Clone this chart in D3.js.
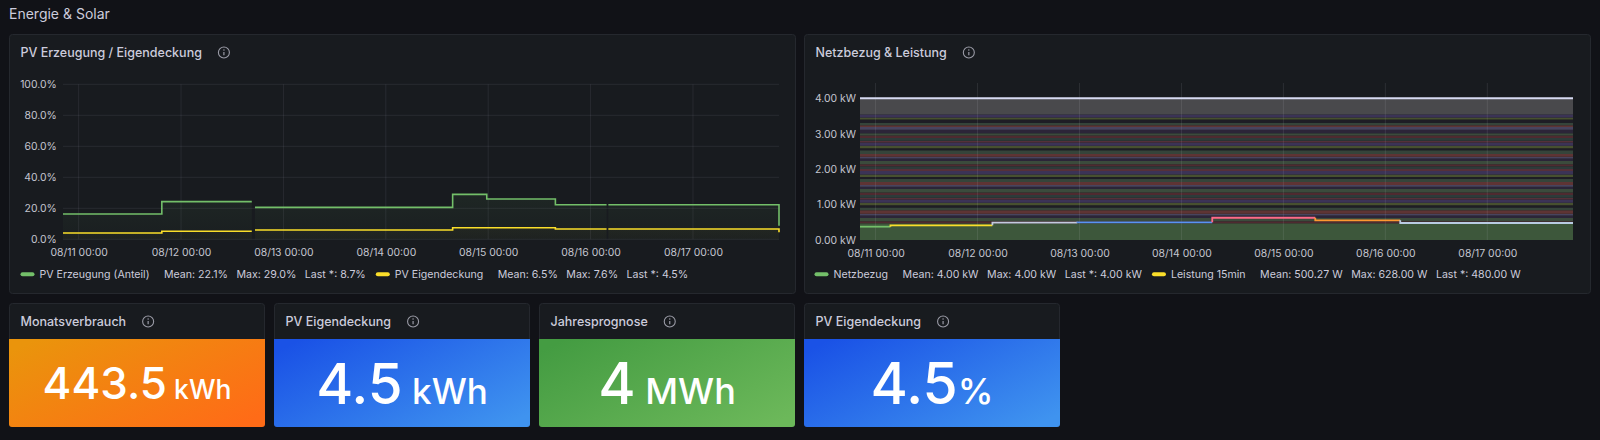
<!DOCTYPE html>
<html>
<head>
<meta charset="utf-8">
<script src="https://cdn.jsdelivr.net/npm/d3@7"></script>
<style>
  html, body { margin: 0; padding: 0; background: #111217; }
  svg { display: block; font-family: Inter, "Noto Sans", sans-serif; }
  text { white-space: pre; }
</style>
</head>
<body>
<svg id="dash" width="1600" height="440"></svg>
<script>
// ---- data ----
const timeRange = ["2024-08-10T20:20", "2024-08-17T20:10"]
const dayTicks = ["2024-08-11T00:00", "2024-08-12T00:00", "2024-08-13T00:00", "2024-08-14T00:00",
  "2024-08-15T00:00", "2024-08-16T00:00", "2024-08-17T00:00"]

// PV panel (percent), null = gap in the data
const pvTimes = ["2024-08-10T20:20", "2024-08-11T19:30", "2024-08-12T16:35", "2024-08-12T16:50",
  "2024-08-12T17:20", "2024-08-14T15:40", "2024-08-14T23:40", "2024-08-15T15:45",
  "2024-08-16T03:45", "2024-08-16T03:55", "2024-08-16T04:10", "2024-08-17T19:55", "2024-08-17T20:10"]
const pvErzeugung = [16.3, 24.3, 24.3, null, 20.6, 29.0, 26.0, 22.3, 22.3, null, 22.3, 22.3, 8.7]
const pvEigendeckung = [4.1, 5.2, 5.2, null, 6.0, 7.5, 7.5, 6.6, 6.6, null, 6.6, 6.6, 4.5]
const pctTicks = [0, 20, 40, 60, 80, 100]

// Netzbezug panel
const netzTimes = ["2024-08-10T20:20", "2024-08-17T20:10"]
const netzKW = [4.0, 4.0]
const leistungTimes = ["2024-08-10T20:20", "2024-08-11T03:30", "2024-08-12T03:30", "2024-08-12T23:30",
  "2024-08-14T07:15", "2024-08-15T07:30", "2024-08-16T03:30", "2024-08-17T20:10"]
const leistungW = [376, 415, 489, 500, 628, 556, 480, 480]
// background stacked series (kW each), bottom to top
const baseKW = 0.47
const stripeKW = [0.06, 0.09, 0.07, 0.05, 0.10, 0.08, 0.06, 0.07, 0.09, 0.05,
  0.08, 0.07, 0.10, 0.06, 0.05, 0.09, 0.08, 0.06, 0.07, 0.10,
  0.05, 0.08, 0.06, 0.09, 0.07, 0.05, 0.08, 0.10, 0.06, 0.07,
  0.09, 0.05, 0.08, 0.07, 0.06, 0.10, 0.08, 0.05, 0.07, 0.09,
  0.06, 0.08]
const kwTicks = [0, 1, 2, 3, 4]

// legends
const pvNames = ["PV Erzeugung (Anteil)", "PV Eigendeckung"]
const pvMean = [22.1, 6.5]
const pvMax = [29.0, 7.6]
const pvLast = [8.7, 4.5]
const netzNames = ["Netzbezug", "Leistung 15min"]
const netzMean = ["4.00 kW", "500.27 W"]
const netzMax = ["4.00 kW", "628.00 W"]
const netzLast = ["4.00 kW", "480.00 W"]

// stat panels
const statTitles = ["Monatsverbrauch", "PV Eigendeckung", "Jahresprognose", "PV Eigendeckung"]
const statValues = ["443.5", "4.5", "4", "4.5"]
const statUnits = [" kWh", " kWh", " MWh", "%"]

// ---- styles ----
const green = "#73bf69", yellow = "#fade2a", textCol = "#ccccdc", axisCol = "#c4c5cf"
const gridCol = "rgba(204,204,220,0.09)"
const titleSize = 12.5, legendSize = 10.6, axisSize = 10.4
const leistungColors = ["#73bf69", "#fade2a", "#c3cadf", "#5794f2", "#ff6a88", "#ff9830", "#b9cbe3"]
const stripeColors = ["#4f2a30", "#3b4b3c", "#2b2538", "#48445e", "#5e3434", "#35443a",
  "#1e1d25", "#47502f", "#3b3356", "#553039", "#2d3b3a"]
const statGradients = [["#ea940c", "#ff6b17"], ["#1a52e6", "#3f93ef"], ["#449c42", "#6cb85a"], ["#1a52e6", "#3f93ef"]]
const statFont = [[44, 26.5], [56.5, 35], [57, 36], [57, 36]]

const parse = d3.timeParse("%Y-%m-%dT%H:%M")
const fmt = d3.timeFormat("%m/%d %H:%M")

const svg = d3.select('#dash')
const defs = svg.append('defs')

svg.append('text')
.attr('x', 9).attr('y', 14.5).attr('dy', '0.35em')
.attr('font-size', 14).attr('fill', textCol)
.text('Energie & Solar')

function infoIcon(g, cx, cy) {
  g.append('circle').attr('cx', cx).attr('cy', cy).attr('r', 5.5)
  .attr('fill', 'none').attr('stroke', '#9a9ba6').attr('stroke-width', 1.1)
  g.append('line').attr('x1', cx).attr('x2', cx).attr('y1', cy - 0.6).attr('y2', cy + 2.8)
  .attr('stroke', '#9a9ba6').attr('stroke-width', 1.2)
  g.append('circle').attr('cx', cx).attr('cy', cy - 2.6).attr('r', 0.75).attr('fill', '#9a9ba6')
}

function panel(x, y, w, h, title) {
  const g = svg.append('g')
  g.append('rect')
  .attr('x', x + 0.5).attr('y', y + 0.5).attr('width', w - 1).attr('height', h - 1).attr('rx', 3)
  .attr('fill', '#181b1f').attr('stroke', '#25282e')
  const t = g.append('text')
  .attr('x', x + 11.5).attr('y', y + 18.5).attr('dy', '0.35em')
  .attr('font-size', titleSize).attr('font-weight', 500).attr('fill', textCol)
  .text(title)
  infoIcon(g, x + 11.5 + t.node().getComputedTextLength() + 22, y + 18.5)
  return g
}

function legend(g, x0, y, colors, names, stats) {
  let x = x0
  names.forEach((name, i) => {
    if (i > 0) x += 10
    g.append('rect').attr('x', x).attr('y', y - 2).attr('width', 14).attr('height', 4).attr('rx', 2)
    .attr('fill', colors[i])
    x += 19
    const t = g.append('text').attr('x', x).attr('y', y).attr('dy', '0.35em')
    .attr('font-size', legendSize).attr('fill', textCol).text(name)
    x += t.node().getComputedTextLength() + 14.5
    stats[i].forEach((s, j) => {
      if (j > 0) x += 8.5
      const st = g.append('text').attr('x', x).attr('y', y).attr('dy', '0.35em')
      .attr('font-size', legendSize).attr('fill', textCol).text(s)
      x += st.node().getComputedTextLength()
    })
  })
}

function styleAxis(sel) {
  sel.select('.domain').remove()
  sel.selectAll('text').attr('fill', axisCol).attr('font-size', axisSize).attr('font-family', 'Inter, sans-serif')
}

const t0 = parse(timeRange[0]), t1 = parse(timeRange[1])
const days = dayTicks.map(parse)

// ---------- PV Erzeugung / Eigendeckung ----------
{
  const g = panel(9, 34, 787, 260, 'PV Erzeugung / Eigendeckung')
  const x = d3.scaleTime().domain([t0, t1]).range([63, 779])
  const y = d3.scaleLinear().domain([0, 100]).range([239.3, 84.3])

  g.append('g').selectAll('line').data(pctTicks).enter().append('line')
  .attr('x1', 63).attr('x2', 779).attr('y1', d => y(d)).attr('y2', d => y(d))
  .attr('stroke', gridCol)
  g.append('g').selectAll('line').data(days).enter().append('line')
  .attr('x1', d => x(d)).attr('x2', d => x(d)).attr('y1', 84.3).attr('y2', 239.3)
  .attr('stroke', gridCol)

  g.append('g').attr('transform', 'translate(63,0)')
  .call(d3.axisLeft(y).tickValues(pctTicks).tickFormat(d => d.toFixed(1) + '%').tickSize(0).tickPadding(6.3))
  .call(styleAxis)
  g.append('g').attr('transform', 'translate(0,239.3)')
  .call(d3.axisBottom(x).tickValues(days).tickFormat(fmt).tickSize(0).tickPadding(9.5))
  .call(styleAxis)

  const series = [pvErzeugung, pvEigendeckung]
  const colors = [green, yellow]
  series.forEach((vals, i) => {
    const pts = pvTimes.map((t, k) => ({ t: parse(t), v: vals[k] }))
    const gid = 'pvfill' + i
    const grad = defs.append('linearGradient').attr('id', gid)
    .attr('gradientUnits', 'userSpaceOnUse').attr('x1', 0).attr('x2', 0).attr('y1', 180).attr('y2', 239)
    grad.append('stop').attr('offset', 0).attr('stop-color', colors[i]).attr('stop-opacity', 0.09)
    grad.append('stop').attr('offset', 1).attr('stop-color', colors[i]).attr('stop-opacity', 0.02)
    g.append('path').datum(pts)
    .attr('d', d3.area().defined(d => d.v != null).curve(d3.curveStepAfter)
      .x(d => x(d.t)).y0(y(0)).y1(d => y(d.v)))
    .attr('fill', `url(#${gid})`)
  })
  series.forEach((vals, i) => {
    const pts = pvTimes.map((t, k) => ({ t: parse(t), v: vals[k] }))
    g.append('path').datum(pts)
    .attr('d', d3.line().defined(d => d.v != null).curve(d3.curveStepAfter)
      .x(d => x(d.t)).y(d => y(d.v)))
    .attr('fill', 'none').attr('stroke', colors[i]).attr('stroke-width', 1.6)
  })

  legend(g, 20.5, 274.3, colors, pvNames,
    pvNames.map((n, i) => [`Mean: ${pvMean[i].toFixed(1)}%`, `Max: ${pvMax[i].toFixed(1)}%`, `Last *: ${pvLast[i].toFixed(1)}%`]))
}

// ---------- Netzbezug & Leistung ----------
{
  const g = panel(804, 34, 787, 260, 'Netzbezug & Leistung')
  const x = d3.scaleTime().domain([t0, t1]).range([860, 1573])
  const y = d3.scaleLinear().domain([0, 4.43]).range([240, 83])

  // stacked background series
  const layers = [baseKW].concat(stripeKW)
  const keys = layers.map((d, i) => 'L' + i)
  const rows = netzTimes.map(t => {
    const r = { t: parse(t) }
    keys.forEach((k, i) => { r[k] = layers[i] })
    return r
  })
  const stacked = d3.stack().keys(keys)(rows)
  const area = d3.area().curve(d3.curveStepAfter).x(d => x(d.data.t)).y0(d => y(d[0])).y1(d => y(d[1]))
  g.append('g').selectAll('path').data(stacked).enter().append('path')
  .attr('d', area)
  .attr('fill', (d, i) => i === 0 ? '#3d573b' : stripeColors[(i - 1) % stripeColors.length])

  // fill between top of stack and Netzbezug
  const topKW = d3.sum(layers)
  const netzPts = netzTimes.map((t, k) => ({ t: parse(t), v: netzKW[k] }))
  g.append('path').datum(netzPts)
  .attr('d', d3.area().curve(d3.curveStepAfter).x(d => x(d.t)).y0(y(topKW)).y1(d => y(d.v)))
  .attr('fill', '#49494c')

  // grid (on top, faint)
  g.append('g').selectAll('line').data(days).enter().append('line')
  .attr('x1', d => x(d)).attr('x2', d => x(d)).attr('y1', 83).attr('y2', 240)
  .attr('stroke', 'rgba(230,230,240,0.1)')

  g.append('g').attr('transform', 'translate(860,0)')
  .call(d3.axisLeft(y).tickValues(kwTicks).tickFormat(d => d.toFixed(2) + ' kW').tickSize(0).tickPadding(4))
  .call(styleAxis)
  g.append('g').attr('transform', 'translate(0,240)')
  .call(d3.axisBottom(x).tickValues(days).tickFormat(fmt).tickSize(0).tickPadding(9.5))
  .call(styleAxis)

  g.append('path').datum(netzPts)
  .attr('d', d3.line().curve(d3.curveStepAfter).x(d => x(d.t)).y(d => y(d.v)))
  .attr('fill', 'none').attr('stroke', '#d6daf2').attr('stroke-width', 2)

  // Leistung 15min, coloured per step
  const lp = leistungTimes.map((t, k) => ({ t: parse(t), v: leistungW[k] / 1000 }))
  const line = d3.line().x(d => x(d.t)).y(d => y(d.v))
  for (let i = 0; i < lp.length - 1; i++) {
    const seg = []
    if (i > 0) seg.push({ t: lp[i].t, v: lp[i - 1].v })
    seg.push({ t: lp[i].t, v: lp[i].v })
    seg.push({ t: lp[i + 1].t, v: lp[i].v })
    g.append('path').datum(seg).attr('d', line)
    .attr('fill', 'none').attr('stroke', leistungColors[i]).attr('stroke-width', 1.8)
  }

  legend(g, 814.5, 274.3, [green, yellow], netzNames,
    netzNames.map((n, i) => [`Mean: ${netzMean[i]}`, `Max: ${netzMax[i]}`, `Last *: ${netzLast[i]}`]))
}

// ---------- stat panels ----------
statTitles.forEach((title, i) => {
  const px = 9 + i * 265, py = 303, pw = 256, ph = 124, bodyY = 339
  const g = panel(px, py, pw, ph, title)
  const cid = 'clip' + i
  defs.append('clipPath').attr('id', cid).append('rect')
  .attr('x', px).attr('y', py).attr('width', pw).attr('height', ph).attr('rx', 3)
  const gid = 'statgrad' + i
  const grad = defs.append('linearGradient').attr('id', gid)
  .attr('x1', 0).attr('y1', 0.15).attr('x2', 1).attr('y2', 0.85)
  grad.append('stop').attr('offset', 0).attr('stop-color', statGradients[i][0])
  grad.append('stop').attr('offset', 1).attr('stop-color', statGradients[i][1])
  g.append('rect').attr('clip-path', `url(#${cid})`)
  .attr('x', px).attr('y', bodyY).attr('width', pw).attr('height', py + ph - bodyY)
  .attr('fill', `url(#${gid})`)

  const [vs, us] = statFont[i]
  const cy = (bodyY + py + ph) / 2
  const t = g.append('text')
  .attr('x', px + pw / 2).attr('y', cy + vs * 0.727 / 2)
  .attr('text-anchor', 'middle').attr('fill', '#ffffff').attr('font-weight', 500)
  t.append('tspan').attr('font-size', vs).text(statValues[i])
  t.append('tspan').attr('font-size', us).text(statUnits[i])
})
</script>
</body>
</html>
